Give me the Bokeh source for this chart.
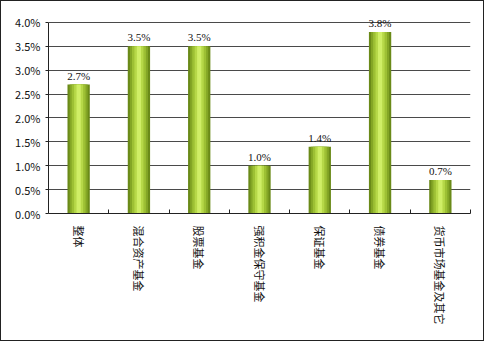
import math
from bokeh.plotting import figure
from bokeh.models import ColumnDataSource, FixedTicker, NumeralTickFormatter, Range1d, LabelSet
from bokeh.embed import file_html
from bokeh.resources import INLINE

categories = ["整体", "混合资产基金", "股票基金", "强积金保守基金", "保证基金", "债券基金", "货币市场基金及其它"]
values = [0.027, 0.035, 0.035, 0.010, 0.014, 0.038, 0.007]
y_ticks = [0.0, 0.005, 0.01, 0.015, 0.02, 0.025, 0.03, 0.035, 0.04]

xs = [i + 1 for i in range(len(categories))]
labels = ["%.1f%%" % (v * 100) for v in values]
src = ColumnDataSource(dict(x=xs, top=values, label=labels))

FONT = "Noto Sans CJK SC"

p = figure(width=484, height=341, output_backend="svg", toolbar_location=None,
           x_range=Range1d(0.5, len(categories) + 0.5), y_range=Range1d(0, 0.0425),
           min_border_left=47, min_border_right=15, min_border_top=9, min_border_bottom=129,
           styles={"border": "1px solid #222222"})
p.outline_line_color = None
p.background_fill_color = "white"
p.border_fill_color = "white"

# bars with a simulated cylinder gradient
layers = [(0.37, "#6a8a18"), (0.30, "#84a626"), (0.23, "#9dc034"), (0.15, "#b6d848"), (0.07, "#cfee66")]
for w, c in layers:
    p.vbar(x="x", top="top", bottom=0, width=w, source=src, fill_color=c, line_color=None)

p.add_layout(LabelSet(x="x", y="top", text="label", source=src, text_align="center",
                      text_baseline="bottom", y_offset=3, text_font=FONT,
                      text_font_size="11px", text_color="#111111"))

# y axis
p.yaxis.ticker = FixedTicker(ticks=y_ticks)
p.yaxis.bounds = (y_ticks[0], y_ticks[-1])
p.yaxis.formatter = NumeralTickFormatter(format="0.0%")
p.yaxis.major_label_text_font = FONT
p.yaxis.major_label_text_font_size = "11px"
p.yaxis.major_label_text_color = "#111111"
p.yaxis.axis_line_color = "#222222"
p.yaxis.major_tick_out = 3
p.yaxis.major_tick_in = 0
p.yaxis.major_tick_line_color = "#222222"
p.yaxis.minor_tick_line_color = None
p.ygrid.grid_line_color = "#4a4a4a"
p.ygrid.grid_line_width = 1

# x axis
p.xaxis.ticker = FixedTicker(ticks=xs, minor_ticks=[x + 0.5 for x in xs])
p.xaxis.major_label_overrides = {x: c for x, c in zip(xs, categories)}
p.xaxis.major_label_orientation = -math.pi / 2
p.xaxis.major_label_text_font = FONT
p.xaxis.major_label_text_font_size = "11px"
p.xaxis.major_label_text_color = "#111111"
p.xaxis.major_label_standoff = 6
p.xaxis.major_tick_line_color = None
p.xaxis.minor_tick_in = 4
p.xaxis.minor_tick_out = 0
p.xaxis.minor_tick_line_color = "#222222"
p.xaxis.axis_line_color = "#222222"
p.xgrid.grid_line_color = None

open("out.html", "w").write(file_html(p, INLINE))
